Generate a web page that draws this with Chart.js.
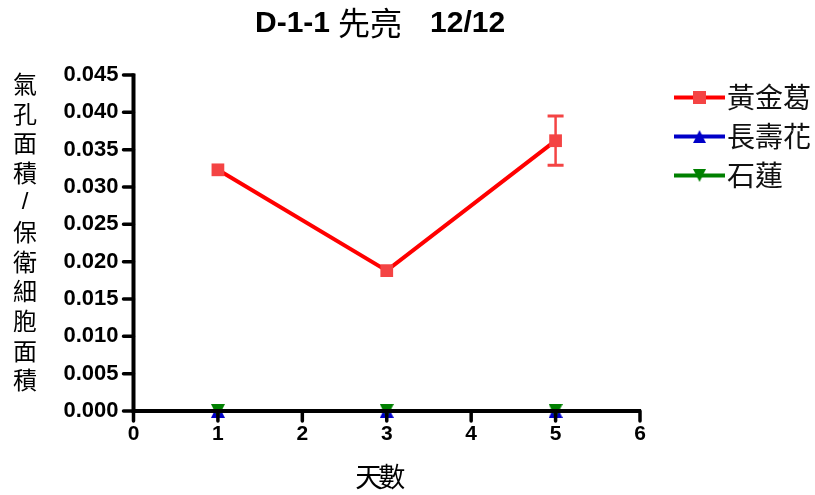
<!DOCTYPE html>
<html>
<head>
<meta charset="utf-8">
<script src="https://cdn.jsdelivr.net/npm/chart.js@4/dist/chart.umd.min.js"></script>
<style>
  html, body { margin: 0; padding: 0; background: #fff; }
  #wrap { position: relative; width: 815px; height: 495px; }
</style>
</head>
<body>
<div id="wrap"><canvas id="c" width="815" height="495"></canvas></div>
<script>
// Days sampled
const days = [1, 3, 5];
// Stomatal area / guard cell area per plant
const pothosMean = [0.0323, 0.0188, 0.0362];
const pothosErr  = [0, 0, 0.0033];
const kalanchoeMean = [0, 0, 0];
const kalanchoeErr  = [0, 0, 0];
const echeveriaMean = [0, 0, 0];
const echeveriaErr  = [0, 0, 0];

const seriesNames = ['黃金葛', '長壽花', '石蓮'];
const xTicks = [0, 1, 2, 3, 4, 5, 6];
const yTicks = [0, 0.005, 0.010, 0.015, 0.020, 0.025, 0.030, 0.035, 0.040, 0.045];

const chartTitle = ['D-1-1', '先亮', '12/12'];
const yTitle = ['氣', '孔', '面', '積', '/', '保', '衛', '細', '胞', '面', '積'];
const xTitle = '天數';

const LATIN = "'Liberation Sans', Arial, sans-serif";
const CJK = "'Noto Sans CJK TC', 'Noto Sans CJK SC', sans-serif";

const RED_LINE = '#ff0000', RED_PT = '#f44444';
const BLUE = '#0000c8', GREEN = '#008000';

function pts(means) { return days.map((d, i) => ({ x: d, y: means[i] })); }

// Triangle marker centred on its bounding box
function triangleMarker(color, down, w, h) {
  const c = document.createElement('canvas');
  c.width = w; c.height = h;
  const g = c.getContext('2d');
  g.fillStyle = color;
  g.beginPath();
  if (down) { g.moveTo(0, 0); g.lineTo(w, 0); g.lineTo(w / 2, h); }
  else { g.moveTo(0, h); g.lineTo(w, h); g.lineTo(w / 2, 0); }
  g.closePath(); g.fill();
  return c;
}
const upTri = triangleMarker(BLUE, false, 14, 14);
const downTri = triangleMarker(GREEN, true, 14, 14);

const errs = [pothosErr, kalanchoeErr, echeveriaErr];

// Error bars, drawn under the markers
const errorBars = {
  id: 'errorBars',
  beforeDatasetsDraw(chart) {
    const { ctx, scales: { x, y } } = chart;
    chart.data.datasets.forEach((ds, di) => {
      const e = errs[di];
      ds.data.forEach((p, i) => {
        if (!e[i]) return;
        const px = x.getPixelForValue(p.x);
        const top = y.getPixelForValue(p.y + e[i]);
        const bot = y.getPixelForValue(p.y - e[i]);
        ctx.save();
        ctx.strokeStyle = ds.pointBackgroundColor;
        ctx.lineWidth = 2.5;
        ctx.beginPath();
        ctx.moveTo(px, top); ctx.lineTo(px, bot);
        ctx.stroke();
        ctx.lineWidth = 3;
        ctx.beginPath();
        ctx.moveTo(px - 8, top); ctx.lineTo(px + 8, top);
        ctx.moveTo(px - 8, bot); ctx.lineTo(px + 8, bot);
        ctx.stroke();
        ctx.restore();
      });
    });
  }
};

// Axis lines and tick marks, painted over the data
const axesOnTop = {
  id: 'axesOnTop',
  afterDatasetsDraw(chart) {
    const { ctx, scales: { x, y } } = chart;
    const x0 = x.getPixelForValue(xTicks[0]);
    const x1 = x.getPixelForValue(xTicks[xTicks.length - 1]);
    const y0 = y.getPixelForValue(yTicks[0]);
    const y1 = y.getPixelForValue(yTicks[yTicks.length - 1]);
    ctx.save();
    ctx.strokeStyle = '#000';
    ctx.lineCap = 'round';
    ctx.lineWidth = 3.5;
    ctx.beginPath();
    yTicks.forEach(v => { const py = y.getPixelForValue(v); ctx.moveTo(x0 - 10, py); ctx.lineTo(x0, py); });
    xTicks.forEach(v => { const px = x.getPixelForValue(v); ctx.moveTo(px, y0); ctx.lineTo(px, y0 + 10); });
    ctx.stroke();
    ctx.lineCap = 'butt';
    ctx.lineWidth = 4;
    ctx.beginPath();
    ctx.moveTo(x0, y1 - 1.5); ctx.lineTo(x0, y0 + 2);
    ctx.moveTo(x0 - 2, y0); ctx.lineTo(x1 + 1, y0);
    ctx.stroke();
    ctx.restore();
  }
};

// Titles and legend
const decorations = {
  id: 'decorations',
  afterDraw(chart) {
    const { ctx, scales: { x } } = chart;
    ctx.save();
    ctx.fillStyle = '#000';
    ctx.textBaseline = 'middle';

    // chart title, latin parts bold, CJK part regular
    const fB = `bold 30px ${LATIN}`, fC = `32px ${CJK}`;
    ctx.textAlign = 'left';
    let tx = 255;
    ctx.font = fB; ctx.fillText(chartTitle[0], tx, 24); tx += ctx.measureText(chartTitle[0]).width + 8;
    ctx.font = fC; ctx.fillText(chartTitle[1], tx, 23); tx += ctx.measureText(chartTitle[1]).width + 28;
    ctx.font = fB; ctx.fillText(chartTitle[2], tx, 24);

    // vertical y-axis title
    ctx.textAlign = 'center';
    yTitle.forEach((ch, i) => {
      ctx.font = ch === '/' ? `24px ${LATIN}` : `24px ${CJK}`;
      ctx.fillText(ch, 25, 84 + i * 29.6);
    });

    // x-axis title
    ctx.font = `27px ${CJK}`;
    const cx = x.getPixelForValue(3) - 7;
    ctx.fillText(xTitle[0], cx - 11, 477);
    ctx.fillText(xTitle[1], cx + 12, 477);

    // legend
    const rows = [97.5, 136.5, 175.5];
    chart.data.datasets.forEach((ds, i) => {
      const ry = rows[i];
      ctx.strokeStyle = ds.borderColor;
      ctx.lineWidth = 4;
      ctx.beginPath(); ctx.moveTo(674, ry); ctx.lineTo(725, ry); ctx.stroke();
      const cxm = 699.5;
      if (ds.pointStyle instanceof HTMLCanvasElement) {
        ctx.drawImage(ds.pointStyle, cxm - 6.5, ry - 6.5, 13, 13);
      } else {
        ctx.fillStyle = ds.pointBackgroundColor;
        ctx.fillRect(cxm - 6.5, ry - 6.5, 13, 13);
      }
      ctx.fillStyle = '#111';
      ctx.textAlign = 'left';
      ctx.font = `28px ${CJK}`;
      ctx.fillText(seriesNames[i], 727, ry);
    });
    ctx.restore();
  }
};

new Chart(document.getElementById('c'), {
  type: 'line',
  data: {
    datasets: [
      { label: seriesNames[0], data: pts(pothosMean), order: 0,
        borderColor: RED_LINE, borderWidth: 4, pointStyle: 'rect', pointRadius: 9,
        pointBackgroundColor: RED_PT, pointBorderColor: RED_PT, pointBorderWidth: 0, clip: false },
      { label: seriesNames[1], data: pts(kalanchoeMean), order: 2,
        borderColor: BLUE, borderWidth: 4, pointStyle: upTri, pointRadius: 7,
        pointBackgroundColor: BLUE, pointBorderColor: BLUE, pointBorderWidth: 0, clip: false },
      { label: seriesNames[2], data: pts(echeveriaMean), order: 1,
        borderColor: GREEN, borderWidth: 4, pointStyle: downTri, pointRadius: 7,
        pointBackgroundColor: GREEN, pointBorderColor: GREEN, pointBorderWidth: 0, clip: false }
    ]
  },
  options: {
    responsive: false,
    animation: false,
    events: [],
    layout: { padding: { top: 75, right: 175, left: 0, bottom: 0 } },
    plugins: { legend: { display: false }, title: { display: false }, tooltip: { enabled: false } },
    scales: {
      x: {
        type: 'linear', min: 0, max: 6,
        afterBuildTicks: s => { s.ticks = xTicks.map(v => ({ value: v })); },
        afterFit: s => { s.height = 84; },
        border: { display: false },
        grid: { display: true, drawOnChartArea: false, drawTicks: true, tickLength: 10, tickColor: 'rgba(0,0,0,0)' },
        ticks: { color: '#000', font: { family: LATIN, size: 21, weight: 'bold' }, padding: 1, maxRotation: 0,
                 callback: v => String(v) }
      },
      y: {
        type: 'linear', min: 0, max: 0.045,
        afterBuildTicks: s => { s.ticks = yTicks.map(v => ({ value: v })); },
        afterFit: s => { s.width = 133.5; },
        border: { display: false },
        grid: { display: true, drawOnChartArea: false, drawTicks: true, tickLength: 10, tickColor: 'rgba(0,0,0,0)' },
        ticks: { color: '#000', font: { family: LATIN, size: 22, weight: 'bold' }, padding: 5,
                 callback: v => Number(v).toFixed(3) }
      }
    }
  },
  plugins: [errorBars, axesOnTop, decorations]
});
</script>
</body>
</html>
